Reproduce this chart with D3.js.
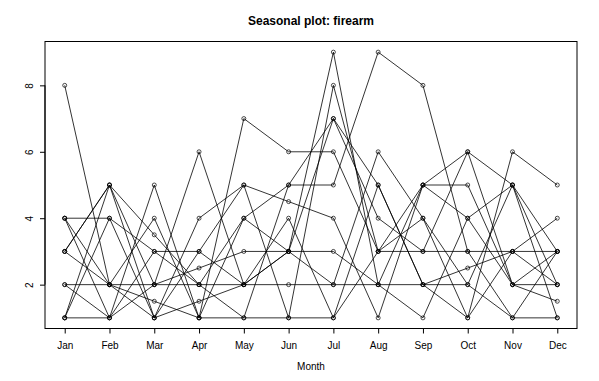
<!DOCTYPE html>
<html><head><meta charset="utf-8">
<script src="https://cdn.jsdelivr.net/npm/d3@7"></script>
<style>body{margin:0;background:#fff}svg{display:block}text{font-family:"Liberation Sans",Arial,sans-serif;fill:#000}</style>
</head><body><div id="chart"></div>
<script>
const months = ["Jan","Feb","Mar","Apr","May","Jun","Jul","Aug","Sep","Oct","Nov","Dec"];
const yTicks = [2,4,6,8];
const s1  = [8,2,2,2,2,2,2,2,2,2.5,3,2];
const s2  = [4,4,3,3,5,4.5,4,1,5,5,2,2];
const s3  = [1,1,5,1,7,6,6,3,3,3,3,3];
const s4  = [3,5,3.5,2,1,5,5,9,8,3,1,1];
const s5  = [2,2,1.5,1,1,1,8,3,5,6,2,1.5];
const s6  = [1,5,2,2.5,3,3,7,5,2,1,3,4];
const s7  = [3,2,1,1.5,2,3,2,6,4,1,6,5];
const s8  = [4,2,4,1,4,5,7,4,3,6,5,2];
const s9  = [1,4,1,4,5,1,1,5,2,2,1,3];
const s10 = [2,1,3,2,4,3,3,2,5,4,2,3];
const s11 = [3,5,1,3,2,4,1,3,4,2,5,1];
const s12 = [4,1,2,6,2,3,9,2,1,4,5,3];
const series = [s1,s2,s3,s4,s5,s6,s7,s8,s9,s10,s11,s12];

const W = 599, H = 381;
const L = 45, R = 577, T = 41.5, B = 328.5;
const svg = d3.select("#chart").append("svg").attr("width", W).attr("height", H);

const x = d3.scaleLinear().domain([0.56, 12.44]).range([L, R]);
const y = d3.scaleLinear().domain([0.68, 9.32]).range([B, T]);

const line = d3.line().x((d,i)=>x(i+1)).y(d=>y(d));
const g = svg.append("g");
series.forEach(s => {
  g.append("path").attr("d", line(s)).attr("fill","none").attr("stroke","#000").attr("stroke-width",0.8);
});
series.forEach(s => {
  g.selectAll(null).data(s).enter().append("circle")
    .attr("cx",(d,i)=>x(i+1)).attr("cy",d=>y(d)).attr("r",2)
    .attr("fill","none").attr("stroke","#000").attr("stroke-width",0.7);
});

svg.append("rect").attr("x",L).attr("y",T).attr("width",R-L).attr("height",B-T)
  .attr("fill","none").attr("stroke","#000").attr("stroke-width",1);

// x axis
const xa = svg.append("g").attr("transform",`translate(0,${B})`)
  .call(d3.axisBottom(x).tickValues(d3.range(1,13)).tickFormat(i=>months[i-1]).tickSizeOuter(0).tickSize(5).tickPadding(8));
xa.select(".domain").attr("d", `M${x(1)},0H${x(12)}`);
xa.selectAll("text").attr("font-size",10).style("font-family","Liberation Sans, Arial, sans-serif");

// y axis
const ya = svg.append("g").attr("transform",`translate(${L},0)`)
  .call(d3.axisLeft(y).tickValues(yTicks).tickSize(5).tickSizeOuter(0).tickFormat(d3.format("d")));
ya.select(".domain").attr("d", `M0,${y(2)}V${y(8)}`);
ya.selectAll(".tick text").attr("font-size",10).attr("text-anchor","middle")
  .attr("x",0).attr("dy",0)
  .attr("transform","translate(-12,0) rotate(-90)")
  .style("font-family","Liberation Sans, Arial, sans-serif");

svg.append("text").attr("x",(L+R)/2).attr("y",25).attr("text-anchor","middle")
  .attr("font-size",12).attr("font-weight","bold").text("Seasonal plot: firearm");
svg.append("text").attr("x",(L+R)/2).attr("y",370).attr("text-anchor","middle")
  .attr("font-size",10).text("Month");
</script></body></html>
